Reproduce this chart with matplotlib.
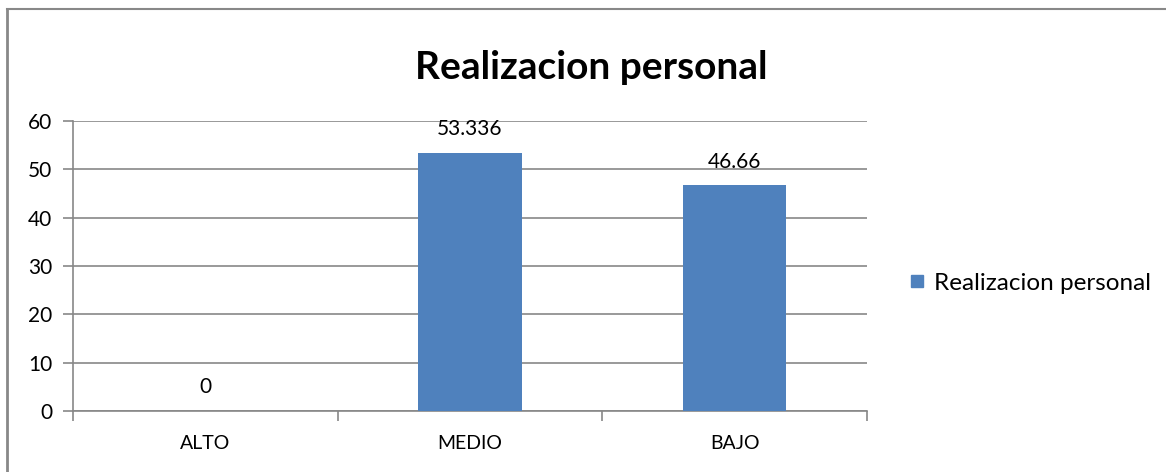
import matplotlib
matplotlib.use('Agg')
import matplotlib.pyplot as plt
from matplotlib.lines import Line2D

# chart data
categories = ['ALTO', 'MEDIO', 'BAJO']
values = [0, 53.336, 46.66]
value_labels = ['0', '53.336', '46.66']
series_name = 'Realizacion personal'
title = 'Realizacion personal'
yticks = [0, 10, 20, 30, 40, 50, 60]

BAR_COLOR = '#4f81bd'
GRID_COLOR = '#878787'

plt.rcParams['font.family'] = ['Lato', 'DejaVu Sans']

fig = plt.figure(figsize=(11.66, 4.72), dpi=100)
ax = fig.add_axes([0.0626, 0.1292, 0.681, 0.6144])

x = list(range(len(categories)))
ax.bar(x, values, width=0.39, color=BAR_COLOR, label=series_name, zorder=3)

ax.set_xlim(-0.5, len(categories) - 0.5)
ax.set_ylim(0, 60)
ax.set_yticks(yticks)
ax.set_yticklabels([str(t) for t in yticks], fontsize=15)
ax.yaxis.grid(True, color=GRID_COLOR, linewidth=1.2, zorder=0)

# category labels in the middle, tick marks at the boundaries
ax.set_xticks(x)
ax.set_xticklabels(categories, fontsize=14)
ax.tick_params(axis='x', length=0, pad=17)
ax.set_xticks([i - 0.5 for i in range(len(categories) + 1)], minor=True)
ax.tick_params(axis='x', which='minor', length=7, width=1.2, color=GRID_COLOR, direction='out')
ax.tick_params(axis='y', length=7, width=1.2, color=GRID_COLOR, direction='out', pad=8)

for side in ['top', 'right']:
    ax.spines[side].set_visible(False)
for side in ['left', 'bottom']:
    ax.spines[side].set_color(GRID_COLOR)
    ax.spines[side].set_linewidth(1.2)

for xi, v, lab in zip(x, values, value_labels):
    ax.annotate(lab, (xi, v), xytext=(0, 10), textcoords='offset points',
                ha='center', va='bottom', fontsize=15)

fig.text(0.507, 0.858, title, ha='center', va='center', fontsize=28, fontweight='bold')

fig.legend(handles=[Line2D([], [], marker='s', linestyle='', markersize=8,
                           color=BAR_COLOR, label=series_name)],
           loc='center left', bbox_to_anchor=(0.759, 0.40), frameon=False,
           fontsize=17.5, handletextpad=0.3, handlelength=0.8)

# outer chart border (left and top only visible)
fig.add_artist(Line2D([0.0064, 0.0064], [0, 0.981], color='#888888', linewidth=2,
                      transform=fig.transFigure))
fig.add_artist(Line2D([0.0064, 0.999], [0.981, 0.981], color='#888888', linewidth=1.5,
                      transform=fig.transFigure))

fig.savefig('out.png', dpi=100)
